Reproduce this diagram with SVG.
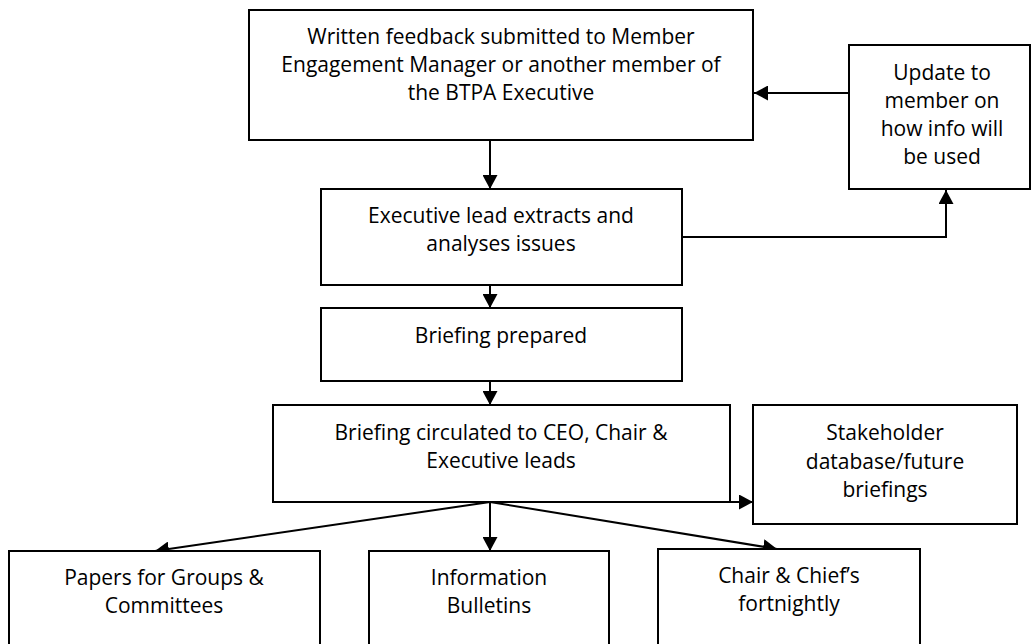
<svg xmlns="http://www.w3.org/2000/svg" width="1032" height="644" viewBox="0 0 1032 644">
<defs>
<marker id="ah" markerUnits="userSpaceOnUse" markerWidth="15" markerHeight="15" refX="14" refY="7.5" orient="auto">
<path d="M0,0 L14,7.5 L0,15 z" fill="#000"/>
</marker>
<style>
.box{fill:#fff;stroke:#000;stroke-width:2}
.t{font-family:"Open Sans","Liberation Sans",sans-serif;font-size:21px;fill:#000;text-anchor:middle}
.c{fill:none;stroke:#000;stroke-width:2}
</style>
</defs>
<rect width="1032" height="644" fill="#fff"/>
<g id="connectors">
<line class="c" x1="490" y1="140" x2="490" y2="189" marker-end="url(#ah)"/>
<line class="c" x1="849" y1="93" x2="754" y2="93" marker-end="url(#ah)"/>
<polyline class="c" points="682,237 946,237 946,190" marker-end="url(#ah)"/>
<line class="c" x1="490" y1="285" x2="490" y2="308" marker-end="url(#ah)"/>
<line class="c" x1="490" y1="381" x2="490" y2="405" marker-end="url(#ah)"/>
<line class="c" x1="490" y1="502" x2="753" y2="502" marker-end="url(#ah)"/>
<line class="c" x1="490" y1="502" x2="155" y2="551" marker-end="url(#ah)"/>
<line class="c" x1="490" y1="502" x2="490" y2="551" marker-end="url(#ah)"/>
<line class="c" x1="490" y1="502" x2="777" y2="549" marker-end="url(#ah)"/>
</g>
<g id="n_feedback">
<rect class="box" x="249" y="10" width="504" height="130"/>
<text class="t" x="501" y="44">Written feedback submitted to Member</text>
<text class="t" x="501" y="72">Engagement Manager or another member of</text>
<text class="t" x="501" y="100">the BTPA Executive</text>
</g>
<g id="n_update">
<rect class="box" x="849" y="45" width="181" height="144"/>
<text class="t" x="942" y="80">Update to</text>
<text class="t" x="942" y="108">member on</text>
<text class="t" x="942" y="136">how info will</text>
<text class="t" x="942" y="164">be used</text>
</g>
<g id="n_extract">
<rect class="box" x="321" y="189" width="361" height="96"/>
<text class="t" x="501" y="223">Executive lead extracts and</text>
<text class="t" x="501" y="251">analyses issues</text>
</g>
<g id="n_prepared">
<rect class="box" x="321" y="308" width="361" height="73"/>
<text class="t" x="501" y="343">Briefing prepared</text>
</g>
<g id="n_circulated">
<rect class="box" x="273" y="405" width="457" height="97"/>
<text class="t" x="501" y="440">Briefing circulated to CEO, Chair &amp;</text>
<text class="t" x="501" y="468">Executive leads</text>
</g>
<g id="n_stakeholder">
<rect class="box" x="753" y="405" width="264" height="119"/>
<text class="t" x="885" y="440">Stakeholder</text>
<text class="t" x="885" y="469">database/future</text>
<text class="t" x="885" y="497">briefings</text>
</g>
<g id="n_papers">
<rect class="box" x="9" y="551" width="311" height="110"/>
<text class="t" x="164" y="585">Papers for Groups &amp;</text>
<text class="t" x="164" y="613">Committees</text>
</g>
<g id="n_info">
<rect class="box" x="369" y="551" width="240" height="110"/>
<text class="t" x="489" y="585">Information</text>
<text class="t" x="489" y="613">Bulletins</text>
</g>
<g id="n_chair">
<rect class="box" x="658" y="549" width="262" height="112"/>
<text class="t" x="789" y="583">Chair &amp; Chief’s</text>
<text class="t" x="789" y="611">fortnightly</text>
</g>
</svg>
